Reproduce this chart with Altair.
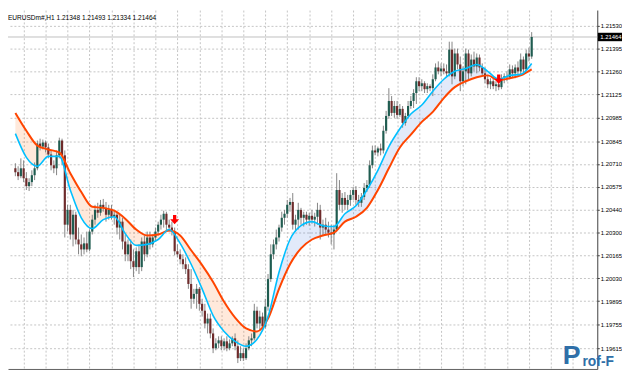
import altair as alt
import pandas as pd

# ---------------- data (EURUSD H1 candles) ----------------
open_ = [
    1.20684, 1.20661, 1.20637, 1.20684, 1.20625, 1.20578, 1.20602, 1.20643, 1.20684, 1.20831,
    1.20813, 1.20837, 1.20808, 1.20766, 1.20702, 1.20684, 1.20761, 1.20849, 1.20761, 1.20349,
    1.20437, 1.20291, 1.20408, 1.20261, 1.20232, 1.20202, 1.20238, 1.20202, 1.20308, 1.20379,
    1.20437, 1.20420, 1.20467, 1.20449, 1.20408, 1.20437, 1.20396, 1.20408, 1.20332, 1.20367,
    1.20249, 1.20173, 1.20232, 1.20132, 1.20097, 1.20191, 1.20097, 1.20249, 1.20173, 1.20273,
    1.20232, 1.20273, 1.20308, 1.20349, 1.20379, 1.20414, 1.20349, 1.20332, 1.20308, 1.20191,
    1.20173, 1.20144, 1.20114, 1.20085, 1.19997, 1.19909, 1.19938, 1.19968, 1.19879, 1.19838,
    1.19762, 1.19791, 1.19703, 1.19615, 1.19644, 1.19662, 1.19627, 1.19656, 1.19615, 1.19644,
    1.19674, 1.19627, 1.19556, 1.19586, 1.19556, 1.19615, 1.19662, 1.19674, 1.19838, 1.19762,
    1.19803, 1.19744, 1.19862, 1.20026, 1.20173, 1.20232, 1.20273, 1.20332, 1.20390, 1.20414,
    1.20467, 1.20484, 1.20349, 1.20379, 1.20437, 1.20390, 1.20408, 1.20379, 1.20402, 1.20379,
    1.20396, 1.20437, 1.20332, 1.20349, 1.20320, 1.20302, 1.20291, 1.20320, 1.20555, 1.20467,
    1.20508, 1.20467, 1.20496, 1.20526, 1.20555, 1.20496, 1.20479, 1.20514, 1.20567, 1.20585,
    1.20702, 1.20790, 1.20778, 1.20802, 1.20790, 1.20907, 1.20995, 1.21084, 1.21013, 1.21054,
    1.21001, 1.21037, 1.20954, 1.20995, 1.21054, 1.21084, 1.21131, 1.21201, 1.21172, 1.21189,
    1.21154, 1.21172, 1.21160, 1.21213, 1.21283, 1.21260, 1.21277, 1.21260, 1.21248, 1.21389,
    1.21230, 1.21366, 1.21301, 1.21201, 1.21260, 1.21366, 1.21248, 1.21330, 1.21289, 1.21342,
    1.21283, 1.21248, 1.21213, 1.21183, 1.21201, 1.21172, 1.21183, 1.21166, 1.21219, 1.21230,
    1.21225, 1.21272, 1.21248, 1.21283, 1.21260, 1.21330, 1.21272, 1.21366, 1.21348,
]
high = [
    1.20714, 1.20696, 1.20743, 1.20731, 1.20661, 1.20625, 1.20672, 1.20719, 1.20849, 1.20860,
    1.20855, 1.20849, 1.20831, 1.20790, 1.20731, 1.20790, 1.20866, 1.20860, 1.20790, 1.20467,
    1.20467, 1.20437, 1.20426, 1.20332, 1.20291, 1.20273, 1.20308, 1.20320, 1.20408, 1.20467,
    1.20479, 1.20496, 1.20502, 1.20484, 1.20467, 1.20467, 1.20437, 1.20426, 1.20408, 1.20390,
    1.20291, 1.20261, 1.20261, 1.20202, 1.20214, 1.20232, 1.20273, 1.20285, 1.20308, 1.20308,
    1.20291, 1.20332, 1.20367, 1.20408, 1.20432, 1.20426, 1.20379, 1.20367, 1.20332, 1.20232,
    1.20202, 1.20173, 1.20155, 1.20114, 1.20085, 1.19968, 1.19997, 1.19979, 1.19909, 1.19879,
    1.19821, 1.19821, 1.19733, 1.19674, 1.19686, 1.19686, 1.19674, 1.19686, 1.19668, 1.19686,
    1.19703, 1.19662, 1.19627, 1.19615, 1.19644, 1.19686, 1.19703, 1.19879, 1.19862, 1.19838,
    1.19827, 1.19909, 1.20056, 1.20232, 1.20261, 1.20320, 1.20349, 1.20426, 1.20437, 1.20496,
    1.20508, 1.20537, 1.20408, 1.20479, 1.20449, 1.20426, 1.20426, 1.20420, 1.20437, 1.20420,
    1.20479, 1.20467, 1.20379, 1.20390, 1.20367, 1.20349, 1.20349, 1.20655, 1.20614, 1.20537,
    1.20543, 1.20526, 1.20555, 1.20573, 1.20578, 1.20526, 1.20537, 1.20596, 1.20614, 1.20731,
    1.20819, 1.20819, 1.20813, 1.20831, 1.20937, 1.21025, 1.21160, 1.21113, 1.21084, 1.21084,
    1.21066, 1.21054, 1.21013, 1.21084, 1.21113, 1.21154, 1.21225, 1.21225, 1.21213, 1.21201,
    1.21189, 1.21183, 1.21242, 1.21307, 1.21319, 1.21307, 1.21307, 1.21301, 1.21436, 1.21436,
    1.21395, 1.21395, 1.21348, 1.21289, 1.21395, 1.21389, 1.21360, 1.21377, 1.21366, 1.21360,
    1.21307, 1.21283, 1.21236, 1.21219, 1.21225, 1.21201, 1.21213, 1.21242, 1.21248, 1.21260,
    1.21301, 1.21295, 1.21301, 1.21319, 1.21366, 1.21348, 1.21389, 1.21401, 1.21493,
]
low = [
    1.20637, 1.20614, 1.20625, 1.20602, 1.20555, 1.20549, 1.20578, 1.20614, 1.20672, 1.20790,
    1.20796, 1.20778, 1.20743, 1.20672, 1.20655, 1.20643, 1.20743, 1.20702, 1.20273, 1.20308,
    1.20261, 1.20220, 1.20232, 1.20173, 1.20161, 1.20173, 1.20185, 1.20191, 1.20291, 1.20349,
    1.20390, 1.20402, 1.20426, 1.20367, 1.20379, 1.20379, 1.20349, 1.20291, 1.20261, 1.20202,
    1.20132, 1.20132, 1.20085, 1.20038, 1.20073, 1.20056, 1.20073, 1.20132, 1.20155, 1.20202,
    1.20214, 1.20249, 1.20285, 1.20320, 1.20332, 1.20308, 1.20308, 1.20285, 1.20167, 1.20155,
    1.20114, 1.20085, 1.20056, 1.19968, 1.19850, 1.19879, 1.19850, 1.19838, 1.19803, 1.19733,
    1.19703, 1.19674, 1.19586, 1.19603, 1.19615, 1.19603, 1.19603, 1.19597, 1.19603, 1.19627,
    1.19603, 1.19527, 1.19539, 1.19539, 1.19545, 1.19603, 1.19627, 1.19662, 1.19733, 1.19721,
    1.19721, 1.19733, 1.19838, 1.20009, 1.20144, 1.20202, 1.20249, 1.20308, 1.20349, 1.20390,
    1.20426, 1.20320, 1.20308, 1.20320, 1.20349, 1.20338, 1.20349, 1.20343, 1.20355, 1.20338,
    1.20349, 1.20261, 1.20285, 1.20291, 1.20273, 1.20232, 1.20202, 1.20308, 1.20437, 1.20420,
    1.20437, 1.20437, 1.20461, 1.20496, 1.20467, 1.20455, 1.20455, 1.20496, 1.20543, 1.20567,
    1.20684, 1.20761, 1.20755, 1.20761, 1.20772, 1.20890, 1.20978, 1.20995, 1.20984, 1.20978,
    1.20990, 1.20925, 1.20937, 1.20978, 1.21037, 1.21042, 1.21066, 1.21142, 1.21142, 1.21131,
    1.21131, 1.21142, 1.21113, 1.21201, 1.21242, 1.21230, 1.21242, 1.21230, 1.21230, 1.21183,
    1.21213, 1.21272, 1.21142, 1.21172, 1.21183, 1.21213, 1.21230, 1.21260, 1.21248, 1.21260,
    1.21230, 1.21189, 1.21160, 1.21154, 1.21154, 1.21142, 1.21148, 1.21154, 1.21189, 1.21201,
    1.21213, 1.21225, 1.21219, 1.21230, 1.21242, 1.21248, 1.21260, 1.21319, 1.21334,
]
close = [
    1.20661, 1.20637, 1.20684, 1.20625, 1.20578, 1.20602, 1.20643, 1.20684, 1.20831, 1.20813,
    1.20837, 1.20808, 1.20766, 1.20702, 1.20684, 1.20761, 1.20849, 1.20761, 1.20349, 1.20437,
    1.20291, 1.20408, 1.20261, 1.20232, 1.20202, 1.20238, 1.20202, 1.20308, 1.20379, 1.20437,
    1.20420, 1.20467, 1.20449, 1.20408, 1.20437, 1.20396, 1.20408, 1.20332, 1.20367, 1.20249,
    1.20173, 1.20232, 1.20132, 1.20097, 1.20191, 1.20097, 1.20249, 1.20173, 1.20273, 1.20232,
    1.20273, 1.20308, 1.20349, 1.20379, 1.20414, 1.20349, 1.20332, 1.20308, 1.20191, 1.20173,
    1.20144, 1.20114, 1.20085, 1.19997, 1.19909, 1.19938, 1.19968, 1.19879, 1.19838, 1.19762,
    1.19791, 1.19703, 1.19615, 1.19644, 1.19662, 1.19627, 1.19656, 1.19615, 1.19644, 1.19674,
    1.19627, 1.19556, 1.19586, 1.19556, 1.19615, 1.19662, 1.19674, 1.19838, 1.19762, 1.19803,
    1.19744, 1.19862, 1.20026, 1.20173, 1.20232, 1.20273, 1.20332, 1.20390, 1.20414, 1.20467,
    1.20484, 1.20349, 1.20379, 1.20437, 1.20390, 1.20408, 1.20379, 1.20402, 1.20379, 1.20396,
    1.20437, 1.20332, 1.20349, 1.20320, 1.20302, 1.20291, 1.20320, 1.20555, 1.20467, 1.20508,
    1.20467, 1.20496, 1.20526, 1.20555, 1.20496, 1.20479, 1.20514, 1.20567, 1.20585, 1.20702,
    1.20790, 1.20778, 1.20802, 1.20790, 1.20907, 1.20995, 1.21084, 1.21013, 1.21054, 1.21001,
    1.21037, 1.20954, 1.20995, 1.21054, 1.21084, 1.21131, 1.21201, 1.21172, 1.21189, 1.21154,
    1.21172, 1.21160, 1.21213, 1.21283, 1.21260, 1.21277, 1.21260, 1.21248, 1.21389, 1.21230,
    1.21366, 1.21301, 1.21201, 1.21260, 1.21366, 1.21248, 1.21330, 1.21289, 1.21342, 1.21283,
    1.21248, 1.21213, 1.21183, 1.21201, 1.21172, 1.21183, 1.21166, 1.21219, 1.21230, 1.21225,
    1.21272, 1.21248, 1.21283, 1.21260, 1.21330, 1.21272, 1.21366, 1.21348, 1.21464,
]
bar_index = list(range(len(close)))

# moving averages (fast = blue, slow = orange), read every 4 bars
ma_bar = list(range(0, 189, 4))
ma_fast = [
    1.20890, 1.20749, 1.20696, 1.20755, 1.20755, 1.20555, 1.20390, 1.20326, 1.20379, 1.20396,
    1.20296, 1.20226, 1.20232, 1.20261, 1.20320, 1.20238, 1.20114, 1.19968, 1.19809, 1.19715,
    1.19656, 1.19627, 1.19668, 1.19803, 1.20067, 1.20261, 1.20343, 1.20367, 1.20343, 1.20338,
    1.20414, 1.20461, 1.20555, 1.20672, 1.20813, 1.20919, 1.21007, 1.21060, 1.21142, 1.21213,
    1.21260, 1.21277, 1.21301, 1.21260, 1.21213, 1.21236, 1.21242, 1.21307,
]
ma_slow = [
    1.21013, 1.20907, 1.20819, 1.20796, 1.20778, 1.20655, 1.20543, 1.20455, 1.20449, 1.20432,
    1.20385, 1.20320, 1.20285, 1.20291, 1.20314, 1.20285, 1.20197, 1.20109, 1.20009, 1.19891,
    1.19797, 1.19733, 1.19715, 1.19791, 1.19968, 1.20114, 1.20208, 1.20261, 1.20285, 1.20302,
    1.20367, 1.20396, 1.20449, 1.20555, 1.20684, 1.20808, 1.20884, 1.20960, 1.21019, 1.21101,
    1.21166, 1.21201, 1.21225, 1.21236, 1.21207, 1.21219, 1.21236, 1.21272,
]

arrow_bar = [58, 176]
arrow_price = [1.20379, 1.21213]

price_ticks = [1.21530, 1.21395, 1.21260, 1.21125, 1.20985, 1.20845, 1.20710, 1.20575,
               1.20440, 1.20300, 1.20165, 1.20030, 1.19895, 1.19755, 1.19615]
grid_bars = list(range(3, 211, 8))
last_price = [1.21464]
last_label = ["1.21464"]
header = "EURUSDm#,H1  1.21348 1.21493 1.21334 1.21464"

# ---------------- frames ----------------
candles = pd.DataFrame({"bar": bar_index, "open": open_, "high": high, "low": low, "close": close})
candles["dir"] = ["up" if c >= o else "down" for o, c in zip(open_, close)]

ma = pd.DataFrame({"bar": ma_bar, "fast": ma_fast, "slow": ma_slow})
ma["lo"] = ma[["fast", "slow"]].min(axis=1)

arrows = pd.DataFrame({"bar": arrow_bar, "price": arrow_price})
last_df = pd.DataFrame({"price": last_price, "label": last_label})

# ---------------- scales / axes ----------------
xs = alt.Scale(domain=[-0.885, 210.09], nice=False, zero=False)
ys = alt.Scale(domain=[1.19492, 1.21624], nice=False, zero=False)

x_axis = alt.Axis(values=grid_bars, labels=False, ticks=False, domain=True,
                  domainColor="#606060", grid=True, gridColor="#c4c4c4",
                  gridDash=[2, 2], title=None)
y_axis = alt.Axis(orient="right", values=price_ticks, format=".5f", grid=True,
                  gridColor="#c4c4c4", gridDash=[2, 2], domainColor="#404040",
                  tickColor="#404040", tickSize=2, labelPadding=1,
                  labelFont="Liberation Sans", labelFontSize=6, labelColor="#000000",
                  labelOverlap=False, title=None)

X = alt.X("bar:Q", scale=xs, axis=x_axis)

base_price_line = alt.Chart(last_df).mark_rule(color="#c0c0c0", strokeWidth=1).encode(
    y=alt.Y("price:Q", scale=ys, axis=y_axis)
)

fill_orange = alt.Chart(ma).mark_area(color="#ff7f2a", opacity=0.17, interpolate="monotone").encode(
    x=X, y=alt.Y("slow:Q", scale=ys, axis=y_axis), y2="lo:Q"
)
fill_blue = alt.Chart(ma).mark_area(color="#3a6fe0", opacity=0.15, interpolate="monotone").encode(
    x=X, y=alt.Y("fast:Q", scale=ys, axis=y_axis), y2="lo:Q"
)

wicks = alt.Chart(candles).mark_rule(color="#858585", strokeWidth=1).encode(
    x=X, y=alt.Y("low:Q", scale=ys, axis=y_axis), y2="high:Q"
)
bodies = alt.Chart(candles).mark_bar(size=2.2).encode(
    x=X, y=alt.Y("open:Q", scale=ys, axis=y_axis), y2="close:Q",
    color=alt.Color("dir:N", scale=alt.Scale(domain=["up", "down"], range=["#1f5c50", "#6e2b2b"]),
                    legend=None),
)

slow_line = alt.Chart(ma).mark_line(color="#ff4500", strokeWidth=2, interpolate="monotone").encode(
    x=X, y=alt.Y("slow:Q", scale=ys, axis=y_axis)
)
fast_line = alt.Chart(ma).mark_line(color="#00bfff", strokeWidth=1.6, interpolate="monotone").encode(
    x=X, y=alt.Y("fast:Q", scale=ys, axis=y_axis)
)

arrow_shape = "M-0.35,-1 L0.35,-1 L0.35,-0.1 L0.95,-0.1 L0,1 L-0.95,-0.1 L-0.35,-0.1 Z"
arrow_marks = alt.Chart(arrows).mark_point(shape=arrow_shape, filled=True, color="#ff0000",
                                           size=90, opacity=1).encode(
    x=X, y=alt.Y("price:Q", scale=ys, axis=y_axis)
)

box_shape = "M-1.6,-0.55 L1.6,-0.55 L1.6,0.55 L-1.6,0.55 Z"
price_box = alt.Chart(last_df).mark_point(shape=box_shape, filled=True, color="#000000",
                                          size=240, opacity=1).encode(
    x=alt.value(609), y=alt.Y("price:Q", scale=ys, axis=y_axis)
)
price_text = alt.Chart(last_df).mark_text(align="left", baseline="middle", color="#ffffff",
                                          font="Liberation Sans", fontSize=6).encode(
    x=alt.value(599), y=alt.Y("price:Q", scale=ys, axis=y_axis), text="label:N"
)

header_text = alt.Chart(pd.DataFrame({"t": [header]})).mark_text(
    align="left", baseline="middle", font="Liberation Sans", fontSize=6.6, color="#000000"
).encode(x=alt.value(0), y=alt.value(8), text="t:N")

logo_p = alt.Chart(pd.DataFrame({"t": ["P"]})).mark_text(
    align="left", baseline="alphabetic", font="Liberation Sans", fontSize=27,
    fontWeight="bold", color="#2f6fa8"
).encode(x=alt.value(561), y=alt.value(358), text="t:N")
logo_rest = alt.Chart(pd.DataFrame({"t": ["rof-F"]})).mark_text(
    align="left", baseline="alphabetic", font="Liberation Sans", fontSize=14,
    fontWeight="bold", color="#2f6fa8"
).encode(x=alt.value(581), y=alt.value(360), text="t:N")

chart = alt.layer(
    base_price_line, fill_orange, fill_blue, wicks, bodies, slow_line, fast_line,
    arrow_marks, price_box, price_text, header_text, logo_p, logo_rest
).properties(
    width=596, height=363,
    autosize=alt.AutoSizeParams(type="none"),
    padding={"left": 0, "top": 0, "right": 25, "bottom": 1},
    background="#ffffff",
).configure_view(stroke=None)

chart.save("out.html", embed_options={"renderer": "svg", "actions": False})
